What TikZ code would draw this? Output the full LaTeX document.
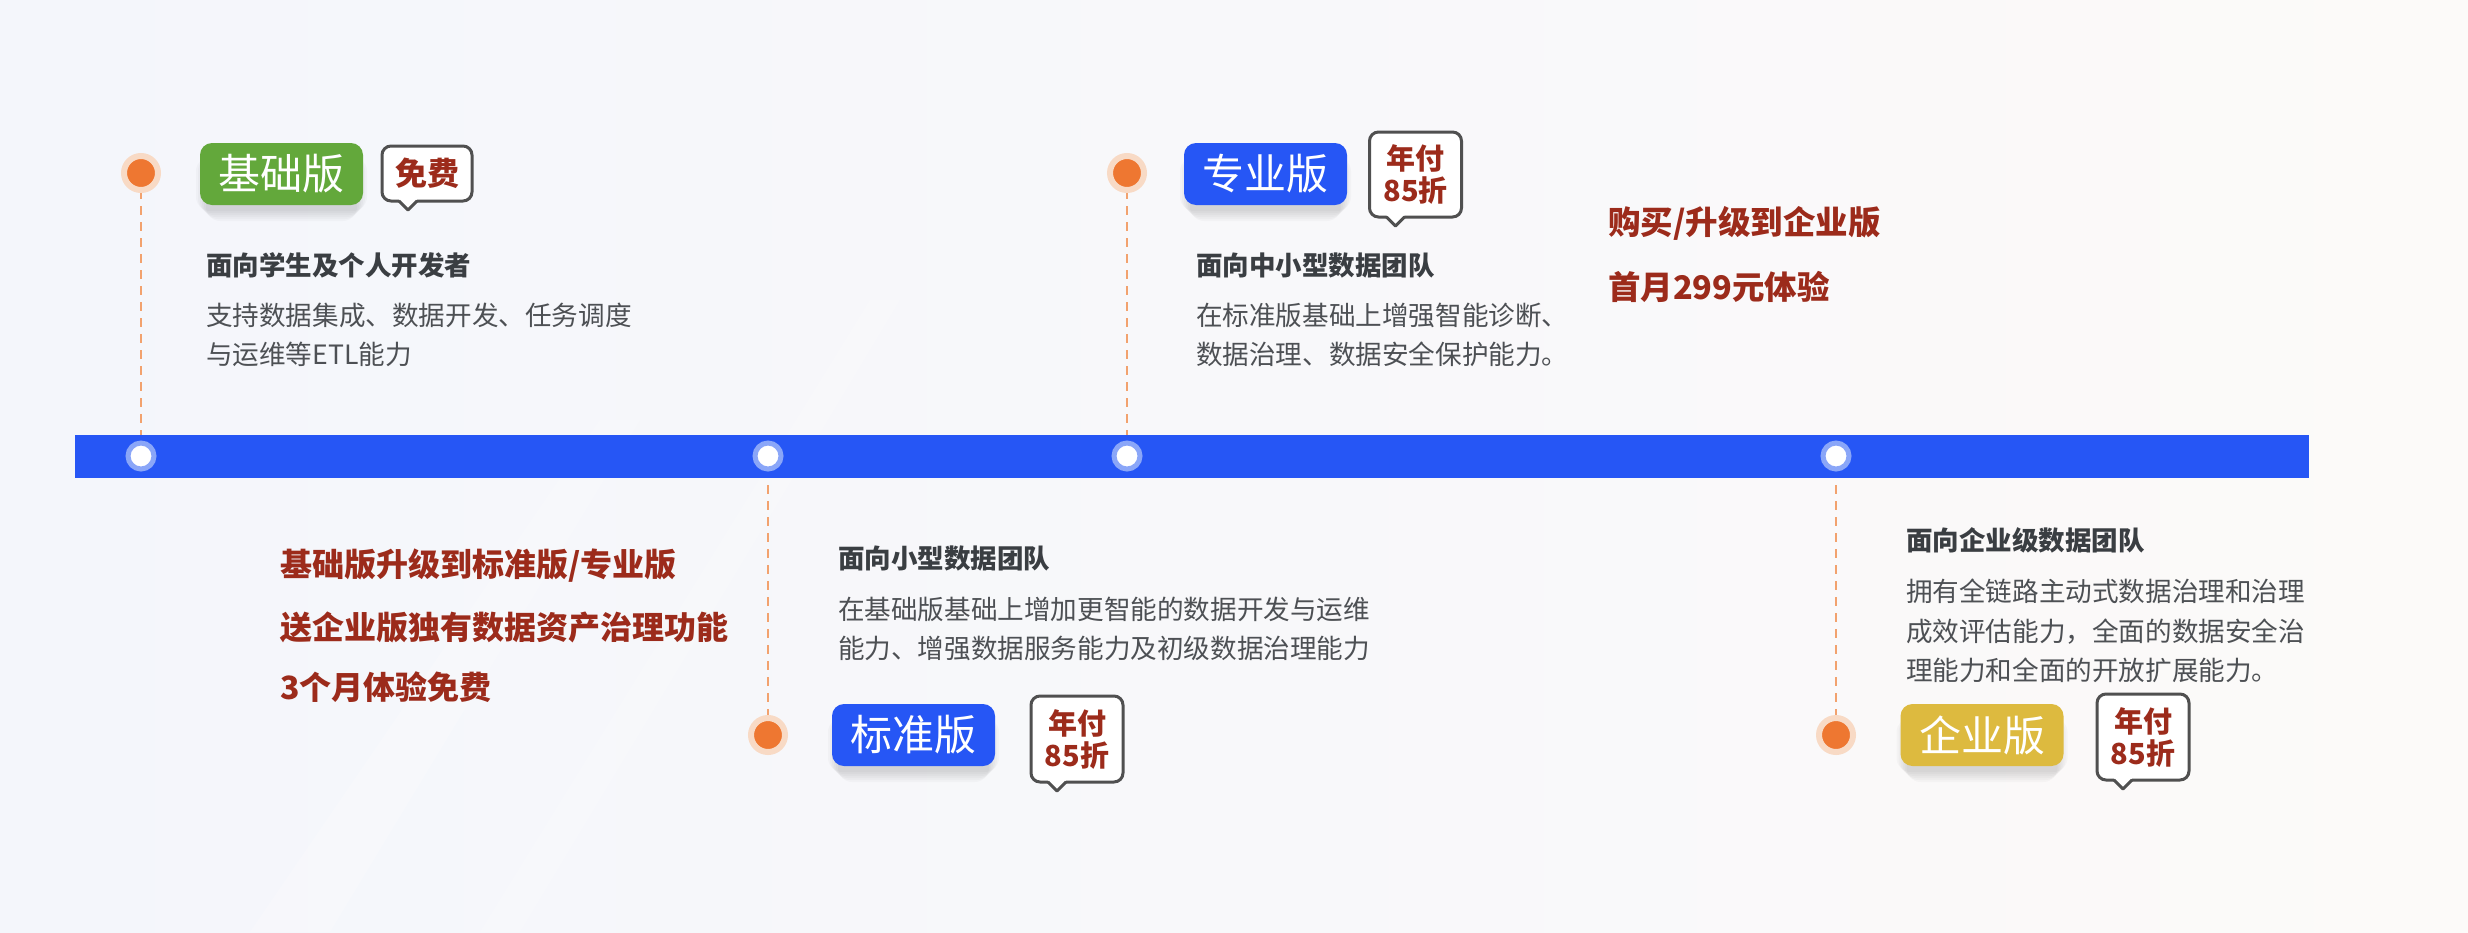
\documentclass[tikz,border=0pt]{standalone}
\usepackage{fontspec}
\setmainfont{Noto Sans CJK SC}
\usetikzlibrary{calc}
\definecolor{barblue}{HTML}{2656F5}
\definecolor{ringblue}{HTML}{8AA6F8}
\definecolor{dotorange}{HTML}{EE7731}
\definecolor{halocol}{HTML}{F8DAC5}
\definecolor{dashorange}{HTML}{F2A26E}
\definecolor{boxgreen}{HTML}{63A83B}
\definecolor{boxgold}{HTML}{DDBA3F}
\definecolor{deepred}{HTML}{9C2B1B}
\definecolor{headgray}{HTML}{3A3E42}
\definecolor{bodygray}{HTML}{4D5054}
\definecolor{bubblegray}{HTML}{505050}
\definecolor{bgleft}{HTML}{F4F6FB}
\definecolor{bgright}{HTML}{FCFAF9}
\pgfdeclarelayer{back}\pgfdeclarelayer{under}
\pgfsetlayers{back,under,main}
\newcommand{\fsz}[2]{\fontsize{#1}{#2}\selectfont}
\newcommand{\softshadow}[1]{%
  \begin{pgfonlayer}{under}
  \foreach \a/\b in {4/6,2/8,0/10,-2/12,-4/14,-6/16}{
    \fill[black, opacity=0.022, rounded corners=14pt]
      ([xshift=-\a*1pt, yshift=-\b*1pt]#1.south west) rectangle ([xshift=\a*1pt, yshift=-14pt]#1.north east);
  }
  \end{pgfonlayer}}
\newcommand{\bubbletail}[1]{%
  \fill[white] ([xshift=17pt,yshift=1.8pt]#1.south west) -- ([xshift=26pt,yshift=-9pt]#1.south west) -- ([xshift=35pt,yshift=1.8pt]#1.south west) -- cycle;
  \draw[draw=bubblegray, line width=3pt, line join=round] ([xshift=17pt]#1.south west) -- ([xshift=26pt,yshift=-9pt]#1.south west) -- ([xshift=35pt]#1.south west);}
\tikzset{
  every node/.style={inner sep=0pt, outer sep=0pt},
  orangedot/.style={circle, fill=dotorange, draw=halocol, line width=6pt, minimum size=34pt},
  barring/.style={circle, fill=white, draw=ringblue, line width=5pt, minimum size=26pt},
  dashline/.style={draw=dashorange, line width=2pt, dash pattern=on 9pt off 7pt},
  edition/.style={rounded corners=12pt, minimum width=163pt, minimum height=62pt, text=white, font=\fsz{42}{42}},
  bubble/.style={draw=bubblegray, line width=3pt, fill=white, rounded corners=9pt, minimum width=92pt, minimum height=86pt, align=center, text=deepred, font=\fsz{29}{32}\bfseries},
  heading/.style={anchor=west, text=headgray, font=\fsz{26.5}{30}\bfseries},
  bodytext/.style={anchor=west, align=left, text=bodygray, font=\fsz{26.6}{39.5}},
  promo/.style={anchor=west, text=deepred, font=\fsz{32}{36}\bfseries},
  bigpromo/.style={anchor=west, text=deepred, font=\fsz{32.5}{38}\bfseries},
}
\begin{document}
\begin{tikzpicture}[x=1pt,y=-1pt]
\useasboundingbox (0,0) rectangle (2468,932);
\begin{pgfonlayer}{back}
  \shade[left color=bgleft, right color=bgright] (0,0) rectangle (2468,932);
  \fill[white, opacity=0.2] (250,932) -- (330,932) -- (640,420) -- (600,420) -- cycle;
  \fill[white, opacity=0.15] (480,932) -- (520,932) -- (900,300) -- (870,300) -- cycle;
\end{pgfonlayer}

% timeline bar
\node[fill=barblue, minimum width=2234pt, minimum height=43pt, anchor=north west] (bar) at (75,435) {};

% bar circles
\node[barring] (c1) at (141,456) {};
\node[barring] (c2) at (768,456) {};
\node[barring] (c3) at (1127,456) {};
\node[barring] (c4) at (1836,456) {};

% orange dots
\node[orangedot] (d1) at (141,173) {};
\node[orangedot] (d3) at (1127,173) {};
\node[orangedot] (d2) at (768,735) {};
\node[orangedot] (d4) at (1836,735) {};

\begin{pgfonlayer}{under}
  \draw[dashline] (d1) -- (c1);
  \draw[dashline] (d3) -- (c3);
  \draw[dashline] (c2) -- (d2);
  \draw[dashline] (c4) -- (d4);
\end{pgfonlayer}

% edition boxes
\node[edition, fill=boxgreen] (basic) at (281.5,174) {基础版};
\node[edition, fill=barblue] (pro) at (1265.5,174) {专业版};
\node[edition, fill=barblue] (std) at (913.5,735) {标准版};
\node[edition, fill=boxgold] (ent) at (1982,735) {企业版};
\softshadow{basic}
\softshadow{pro}
\softshadow{std}
\softshadow{ent}

% bubbles
\node[bubble, minimum width=90pt, minimum height=55pt, font=\fsz{32}{36}\bfseries] (free) at (427,173.5) {免费};
\bubbletail{free}
\node[bubble, minimum height=85pt] (b2) at (1415.5,174.5) {年付\\85折};
\bubbletail{b2}
\node[bubble] (b3) at (1077,739) {年付\\85折};
\bubbletail{b3}
\node[bubble] (b4) at (2143,737) {年付\\85折};
\bubbletail{b4}

% texts
\node[heading] (h1) at (206,265) {面向学生及个人开发者};
\node[bodytext] (t1) at (206,335) {支持数据集成、数据开发、任务调度\\与运维等ETL能力};
\node[heading] (h2) at (1196,265) {面向中小型数据团队};
\node[bodytext] (t2) at (1196,335) {在标准版基础上增强智能诊断、\\数据治理、数据安全保护能力。};
\node[bigpromo] (p1) at (1608,223) {购买/升级到企业版};
\node[bigpromo] (p2) at (1608,287) {首月299元体验};
\node[promo] (r1) at (280,566) {基础版升级到标准版/专业版};
\node[promo] (r2) at (280,627) {送企业版独有数据资产治理功能};
\node[promo] (r3) at (280,687) {3个月体验免费};
\node[heading] (h3) at (838,558) {面向小型数据团队};
\node[bodytext] (t3) at (838,629) {在基础版基础上增加更智能的数据开发与运维\\能力、增强数据服务能力及初级数据治理能力};
\node[heading] (h4) at (1906,540) {面向企业级数据团队};
\node[bodytext] (t4) at (1906,631) {拥有全链路主动式数据治理和治理\\成效评估能力，全面的数据安全治\\理能力和全面的开放扩展能力。};
\end{tikzpicture}
\end{document}
